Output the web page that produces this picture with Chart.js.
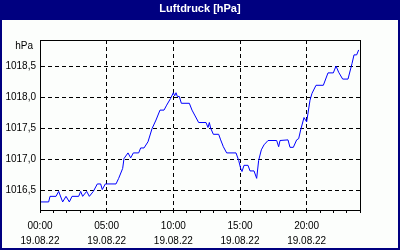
<!DOCTYPE html>
<html>
<head>
<meta charset="utf-8">
<script src="https://cdn.jsdelivr.net/npm/chart.js@4"></script>
<style>
  html, body { margin: 0; padding: 0; background: #fff; }
  #wrap { width: 400px; height: 250px; }
</style>
</head>
<body>
<div id="wrap"><canvas id="myChart" width="400" height="250"></canvas></div>
<script>
// hours since 00:00 on 19.08.22
var hours = [0.0, 0.65, 0.75, 1.2, 1.4, 1.7, 1.95, 2.2, 2.4, 2.9, 3.05, 3.2, 3.5, 3.7, 4.0, 4.3, 4.55, 4.67, 4.9, 5.7,
  5.9, 6.2, 6.3, 6.6, 6.8, 7.0, 7.4, 7.55, 7.8, 8.1, 8.4, 8.7, 9.0, 9.3, 9.5, 9.8, 10.0, 10.1, 10.2, 10.3,
  10.45, 10.6, 11.2, 11.4, 11.6, 11.9, 12.45, 12.6, 12.7, 12.8, 13.0, 13.4, 13.55, 13.75, 14.0, 14.7, 14.9, 15.05, 15.15, 15.3,
  15.6, 15.75, 16.05, 16.25, 16.4, 16.6, 16.8, 17.1, 17.75, 17.9, 18.0, 18.6, 18.75, 19.0, 19.25, 19.4, 19.55, 19.8, 20.0, 20.25,
  20.4, 20.7, 21.25, 21.6, 22.0, 22.2, 22.4, 22.7, 23.1, 23.4, 23.55, 23.75, 23.9];
var pressure = [1016.31, 1016.31, 1016.40, 1016.40, 1016.48, 1016.31, 1016.40, 1016.31, 1016.40, 1016.40, 1016.48, 1016.40, 1016.48, 1016.40, 1016.48, 1016.60, 1016.60, 1016.51, 1016.60, 1016.60,
  1016.69, 1016.85, 1017.01, 1017.10, 1017.02, 1017.10, 1017.10, 1017.18, 1017.18, 1017.28, 1017.49, 1017.63, 1017.79, 1017.79, 1017.87, 1017.98, 1018.07, 1018.02, 1018.07, 1018.01,
  1018.01, 1017.90, 1017.90, 1017.79, 1017.71, 1017.59, 1017.59, 1017.51, 1017.59, 1017.50, 1017.40, 1017.40, 1017.31, 1017.20, 1017.10, 1017.10, 1016.98, 1016.85, 1016.80, 1016.90,
  1016.90, 1016.81, 1016.81, 1016.69, 1016.98, 1017.15, 1017.23, 1017.30, 1017.30, 1017.20, 1017.30, 1017.31, 1017.19, 1017.19, 1017.31, 1017.33, 1017.47, 1017.67, 1017.60, 1017.95,
  1018.06, 1018.19, 1018.19, 1018.39, 1018.39, 1018.50, 1018.40, 1018.29, 1018.29, 1018.54, 1018.68, 1018.68, 1018.76];
var yTicks = [1016.5, 1017.0, 1017.5, 1018.0, 1018.5];
var dateLabel = '19.08.22';
var title = 'Luftdruck [hPa]';
var unit = 'hPa';

points = [];
for (i = 0; i < hours.length; i++) {
  points.push({ x: hours[i], y: pressure[i] });
}

Chart.defaults.font.family = "'Liberation Sans', Arial, sans-serif";
Chart.defaults.font.size = 10;
Chart.defaults.color = '#000';

var frame = {
  id: 'frame',
  beforeDraw: function (chart) {
    var ctx = chart.ctx;
    ctx.save();
    ctx.fillStyle = '#000080';
    ctx.fillRect(0, 0, chart.width, chart.height);
    ctx.fillStyle = '#fcfefc';
    ctx.fillRect(2, 20, chart.width - 4, chart.height - 22);
    ctx.restore();
  },
  afterDraw: function (chart) {
    var ctx = chart.ctx, a = chart.chartArea;
    ctx.save();
    ctx.strokeStyle = '#000';
    ctx.lineWidth = 1;
    ctx.strokeRect(Math.round(a.left) + 0.5, Math.round(a.top) + 0.5,
      Math.round(a.right - a.left), Math.round(a.bottom - a.top));
    ctx.fillStyle = '#fff';
    ctx.font = "bold 11px 'Liberation Sans', Arial, sans-serif";
    ctx.textAlign = 'center';
    ctx.textBaseline = 'middle';
    ctx.fillText(title, chart.width / 2, 9);
    ctx.fillStyle = '#000';
    ctx.font = "10px 'Liberation Sans', Arial, sans-serif";
    ctx.textAlign = 'right';
    ctx.fillText(unit, a.left - 7, a.top + 6);
    ctx.restore();
  }
};

new Chart(document.getElementById('myChart'), {
  type: 'line',
  data: {
    datasets: [{
      data: points,
      borderColor: '#0000ff',
      borderWidth: 1,
      pointRadius: 0,
      tension: 0,
      fill: false
    }]
  },
  options: {
    responsive: false,
    animation: false,
    layout: { padding: { top: 40, right: 40, left: 0, bottom: 0 } },
    plugins: {
      legend: { display: false },
      tooltip: { enabled: false }
    },
    scales: {
      x: {
        type: 'linear',
        min: 0,
        max: 24,
        afterFit: function (scale) { scale.height = 40; },
        ticks: {
          stepSize: 1,
          autoSkip: false,
          maxRotation: 0,
          padding: 5,
          font: { size: 10, lineHeight: 1.57 },
          callback: function (v) {
            if (v % 5 !== 0) return '';
            return [(v < 10 ? '0' : '') + v + ':00', dateLabel];
          }
        },
        grid: {
          color: function (c) {
            var v = c.tick ? c.tick.value : 0;
            return (v % 5 === 0 && v > 0 && v < 24) ? '#000' : 'rgba(0,0,0,0)';
          },
          tickColor: '#000',
          tickLength: 3,
          lineWidth: 1
        },
        border: { display: true, color: '#000', dash: [4, 3] }
      },
      y: {
        min: 1016.18,
        max: 1018.92,
        afterFit: function (scale) { scale.width = 40; },
        afterBuildTicks: function (scale) {
          scale.ticks = yTicks.map(function (v) { return { value: v }; });
        },
        ticks: {
          padding: 4,
          callback: function (v) { return v.toFixed(1).replace('.', ','); }
        },
        grid: {
          color: '#000',
          drawTicks: false,
          lineWidth: 1
        },
        border: { display: true, color: '#000', dash: [4, 3] }
      }
    }
  },
  plugins: [frame]
});
</script>
</body>
</html>
